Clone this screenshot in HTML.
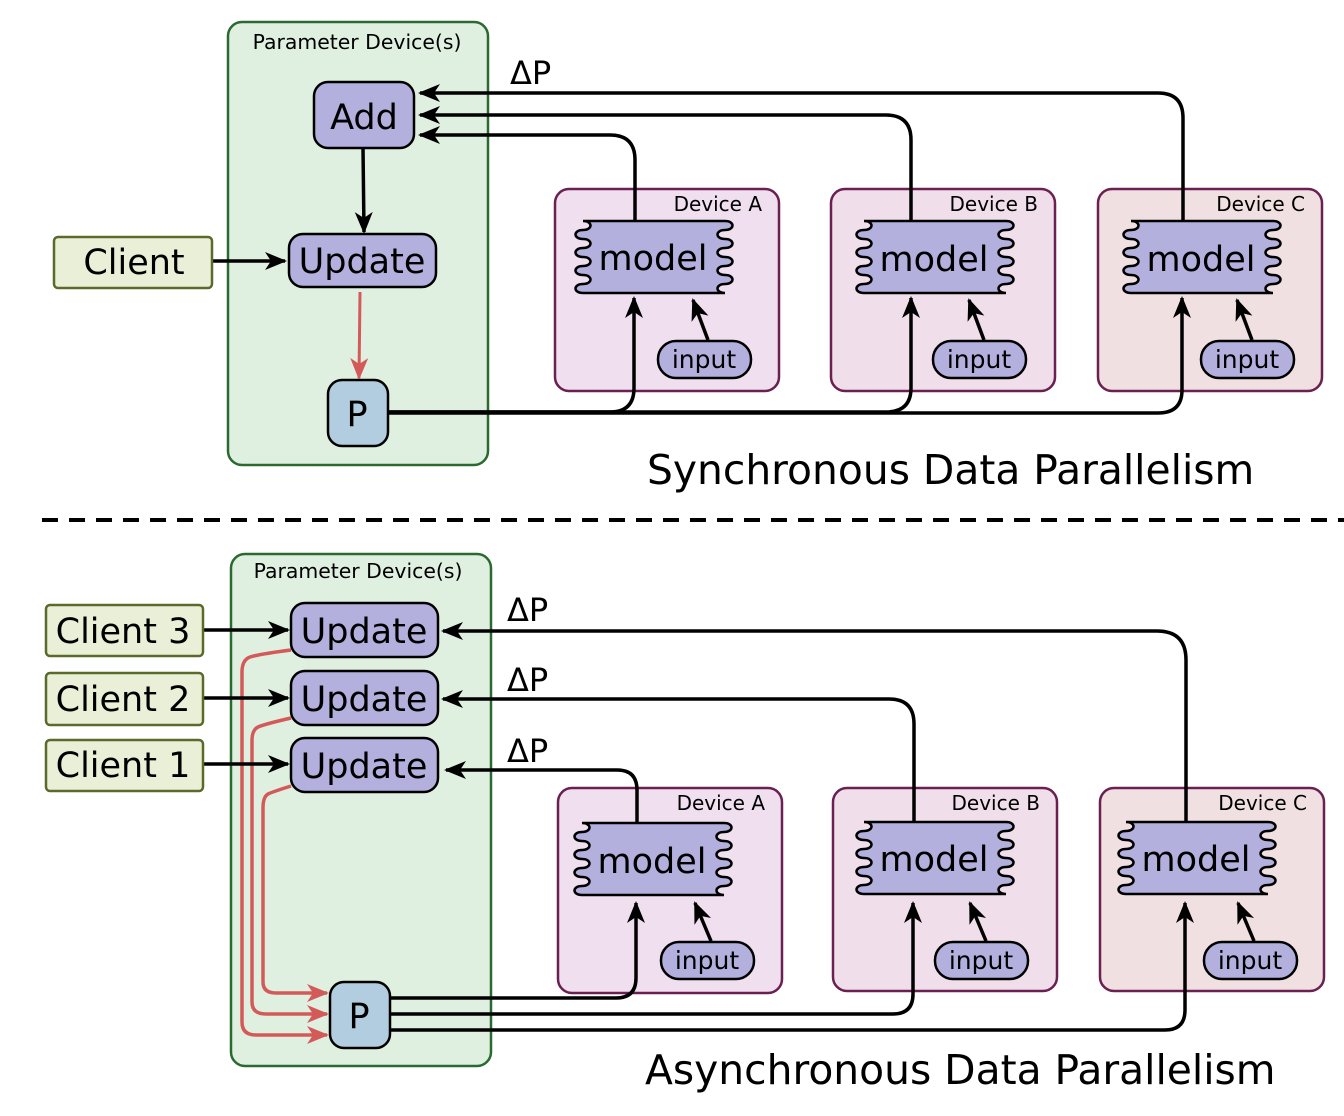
<!DOCTYPE html>
<html><head><meta charset="utf-8"><style>
html,body{margin:0;padding:0;background:#fff}
svg{display:block;font-family:"DejaVu Sans","Liberation Sans",sans-serif}
</style></head><body>
<svg width="1344" height="1116" viewBox="0 0 1344 1116" xmlns="http://www.w3.org/2000/svg">
<defs>
<marker id="ab" markerUnits="userSpaceOnUse" markerWidth="24" markerHeight="20" refX="20" refY="9" orient="auto"><path d="M0,0 L22,9 L0,18 L6,9z" fill="#000"/></marker>
<marker id="ar" markerUnits="userSpaceOnUse" markerWidth="24" markerHeight="20" refX="20" refY="9" orient="auto"><path d="M0,0 L22,9 L0,18 L6,9z" fill="#d45a5a"/></marker>
<path id="mdl" d="M8,0 H150 c10,0 10,9 0,9 c-10,0 -10,9 0,9 c10,0 10,9 0,9 c-10,0 -10,9 0,9 c10,0 10,9 0,9 c-10,0 -10,9 0,9 c10,0 10,9 0,9 c-10,0 -10,9 0,9 H8 c-10,0 -10,-9 0,-9 c10,0 10,-9 0,-9 c-10,0 -10,-9 0,-9 c10,0 10,-9 0,-9 c-10,0 -10,-9 0,-9 c10,0 10,-9 0,-9 c-10,0 -10,-9 0,-9 c10,0 10,-9 0,-9 Z" fill="#b3b0de" stroke="#000" stroke-width="2.5"/>
</defs>

<!-- TOP -->
<rect x="228" y="22" width="260" height="443" rx="14" fill="#dff0e1" stroke="#2a6a30" stroke-width="2.5"/>
<text x="357" y="49" font-size="20.4" text-anchor="middle">Parameter Device(s)</text>

<g stroke="#6a2050" stroke-width="2.5">
<rect x="555" y="189" width="224" height="202" rx="14" fill="#efdfef"/>
<rect x="831" y="189" width="224" height="202" rx="14" fill="#f0dfea"/>
<rect x="1098" y="189" width="224" height="202" rx="14" fill="#f1e0e1"/>
</g>
<g font-size="20" text-anchor="end">
<text x="762" y="211">Device A</text><text x="1038" y="211">Device B</text><text x="1305" y="211">Device C</text>
</g>

<g fill="none" stroke="#000" stroke-width="3.5">
<path d="M635,221 V160 Q635,135 610,135 H420" marker-end="url(#ab)"/>
<path d="M911,221 V140 Q911,115 886,115 H420" marker-end="url(#ab)"/>
<path d="M1183,221 V118 Q1183,93 1158,93 H420" marker-end="url(#ab)"/>
<path d="M388,412 H610 Q634,412 634,388 V298" marker-end="url(#ab)"/>
<path d="M388,412 H886 Q911,412 911,388 V298" marker-end="url(#ab)"/>
<path d="M388,413 H1158 Q1182,413 1182,390 V298" marker-end="url(#ab)"/>
<path d="M363,148 L364,232" marker-end="url(#ab)"/>
<path d="M212,261 L285,261" marker-end="url(#ab)"/>
<path d="M708,340 L693,300" marker-end="url(#ab)"/>
<path d="M984,340 L969,300" marker-end="url(#ab)"/>
<path d="M1252,340 L1237,300" marker-end="url(#ab)"/>
</g>
<path d="M360,292 L359,378" stroke="#d45a5a" stroke-width="3" fill="none" marker-end="url(#ar)"/>

<text x="510" y="84" font-size="32">ΔP</text>

<rect x="314" y="82" width="100" height="66" rx="14" fill="#b3b0de" stroke="#000" stroke-width="2.5"/>
<text x="364" y="129" font-size="35" text-anchor="middle">Add</text>
<rect x="289" y="234" width="147" height="53" rx="14" fill="#b3b0de" stroke="#000" stroke-width="2.5"/>
<text x="362" y="273" font-size="35" text-anchor="middle">Update</text>
<rect x="328" y="380" width="60" height="66" rx="14" fill="#b3cde0" stroke="#000" stroke-width="2.5"/>
<text x="357" y="426" font-size="35" text-anchor="middle">P</text>
<rect x="54" y="237" width="158" height="51" rx="4" fill="#eaf0d8" stroke="#5a6a2a" stroke-width="2.5"/>
<text x="134" y="274" font-size="35" text-anchor="middle">Client</text>

<use href="#mdl" x="575" y="221"/><use href="#mdl" x="856" y="221"/><use href="#mdl" x="1123" y="221"/>
<g font-size="35" text-anchor="middle">
<text x="653" y="270">model</text><text x="934" y="271">model</text><text x="1201" y="271">model</text>
</g>
<g fill="#b3b0de" stroke="#000" stroke-width="2.5">
<rect x="658" y="341" width="93" height="37" rx="18"/><rect x="933" y="341" width="93" height="37" rx="18"/><rect x="1201" y="341" width="93" height="37" rx="18"/>
</g>
<g font-size="25" text-anchor="middle">
<text x="704" y="368">input</text><text x="979" y="368">input</text><text x="1247" y="368">input</text>
</g>

<text x="647" y="484" font-size="40.8">Synchronous Data Parallelism</text>

<line x1="42" y1="520" x2="1344" y2="520" stroke="#000" stroke-width="4" stroke-dasharray="16,11"/>

<!-- BOTTOM -->
<rect x="231" y="554" width="260" height="512" rx="14" fill="#dff0e1" stroke="#2a6a30" stroke-width="2.5"/>
<text x="358" y="578" font-size="20.4" text-anchor="middle">Parameter Device(s)</text>

<g stroke="#6a2050" stroke-width="2.5">
<rect x="558" y="788" width="224" height="205" rx="14" fill="#efdfef"/>
<rect x="833" y="788" width="224" height="203" rx="14" fill="#f0dfea"/>
<rect x="1100" y="788" width="224" height="203" rx="14" fill="#f1e0e1"/>
</g>
<g font-size="20" text-anchor="end">
<text x="765" y="810">Device A</text><text x="1040" y="810">Device B</text><text x="1307" y="810">Device C</text>
</g>

<g fill="none" stroke="#d45a5a" stroke-width="3.5">
<path d="M291,650 Q260,654 250,657 Q242,660 242,672 V1022 Q242,1035 256,1035 H327" marker-end="url(#ar)"/>
<path d="M291,718 Q265,724 258,727 Q252,730 252,740 V1002 Q252,1014 266,1014 H327" marker-end="url(#ar)"/>
<path d="M291,786 Q272,792 268,794 Q263,797 263,808 V982 Q263,993 276,993 H327" marker-end="url(#ar)"/>
</g>

<g fill="none" stroke="#000" stroke-width="3.5">
<path d="M637,823 V790 Q637,770 617,770 H446" marker-end="url(#ab)"/>
<path d="M914,823 V724 Q914,699 889,699 H443" marker-end="url(#ab)"/>
<path d="M1186,823 V660 Q1186,631 1157,631 H443" marker-end="url(#ab)"/>
<path d="M390,998 H616 Q636,998 636,978 V903" marker-end="url(#ab)"/>
<path d="M390,1014 H893 Q913,1014 913,994 V903" marker-end="url(#ab)"/>
<path d="M390,1030 H1165 Q1185,1030 1185,1010 V903" marker-end="url(#ab)"/>
<path d="M203,630 L288,630" marker-end="url(#ab)"/>
<path d="M203,698 L288,698" marker-end="url(#ab)"/>
<path d="M203,764 L288,764" marker-end="url(#ab)"/>
<path d="M711,941 L695,903" marker-end="url(#ab)"/>
<path d="M986,941 L970,903" marker-end="url(#ab)"/>
<path d="M1254,941 L1238,903" marker-end="url(#ab)"/>
</g>

<g font-size="32">
<text x="507" y="621">ΔP</text><text x="507" y="691">ΔP</text><text x="507" y="762">ΔP</text>
</g>

<g fill="#b3b0de" stroke="#000" stroke-width="2.5">
<rect x="291" y="603" width="147" height="54" rx="14"/>
<rect x="291" y="671" width="147" height="54" rx="14"/>
<rect x="291" y="738" width="147" height="54" rx="14"/>
</g>
<g font-size="35" text-anchor="middle">
<text x="364" y="643">Update</text><text x="364" y="711">Update</text><text x="364" y="778">Update</text>
</g>
<rect x="330" y="982" width="60" height="66" rx="14" fill="#b3cde0" stroke="#000" stroke-width="2.5"/>
<text x="359" y="1028" font-size="35" text-anchor="middle">P</text>

<g fill="#eaf0d8" stroke="#5a6a2a" stroke-width="2.5">
<rect x="46" y="605" width="157" height="51" rx="4"/>
<rect x="46" y="673" width="157" height="52" rx="4"/>
<rect x="46" y="740" width="157" height="51" rx="4"/>
</g>
<g font-size="35" text-anchor="middle">
<text x="123" y="643">Client 3</text><text x="123" y="711">Client 2</text><text x="123" y="777">Client 1</text>
</g>

<use href="#mdl" x="574" y="823"/><use href="#mdl" x="856" y="822"/><use href="#mdl" x="1118" y="822"/>
<g font-size="35" text-anchor="middle">
<text x="652" y="873">model</text><text x="934" y="871">model</text><text x="1196" y="871">model</text>
</g>
<g fill="#b3b0de" stroke="#000" stroke-width="2.5">
<rect x="661" y="942" width="93" height="37" rx="18"/><rect x="935" y="942" width="93" height="37" rx="18"/><rect x="1204" y="942" width="93" height="37" rx="18"/>
</g>
<g font-size="25" text-anchor="middle">
<text x="707" y="969">input</text><text x="981" y="969">input</text><text x="1250" y="969">input</text>
</g>

<text x="645" y="1084" font-size="40.8">Asynchronous Data Parallelism</text>
</svg>
</body></html>
